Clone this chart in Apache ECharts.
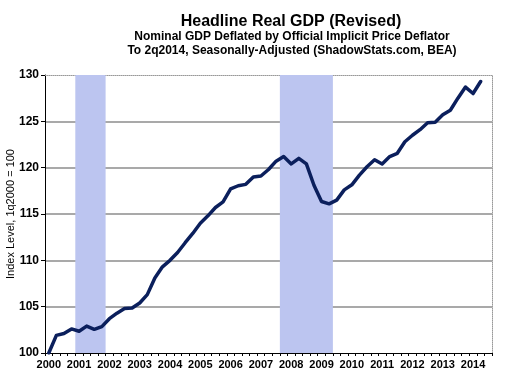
<!DOCTYPE html>
<html>
<head>
<meta charset="utf-8">
<script src="https://cdn.jsdelivr.net/npm/echarts@6/dist/echarts.min.js"></script>
<style>
html,body{margin:0;padding:0;background:#fff;}
#c{width:509px;height:390px;}
</style>
</head>
<body>
<div id="c"></div>
<script>
// Quarter categories, 1q2000 .. 3q2014 (axis runs one quarter past the data)
const years = [2000,2001,2002,2003,2004,2005,2006,2007,2008,2009,2010,2011,2012,2013,2014];
const quarters = [];
years.forEach(y => { [1,2,3,4].forEach(q => { if (!(y === 2014 && q === 4)) quarters.push(q + 'q' + y); }); });

// Headline real GDP index, 1q2000 = 100
const gdpIndex = [
  100.0, 101.9, 102.1, 102.6,
  102.35, 102.9, 102.55, 102.85,
  103.7, 104.3, 104.8, 104.85,
  105.4, 106.3, 108.1, 109.3,
  110.0, 110.85, 111.9, 112.9,
  114.0, 114.8, 115.7, 116.3,
  117.7, 118.05, 118.2, 119.0,
  119.1, 119.8, 120.7, 121.2,
  120.4, 121.0, 120.4, 118.1,
  116.35, 116.1, 116.5, 117.6,
  118.15, 119.2, 120.1, 120.85,
  120.4, 121.2, 121.55, 122.8,
  123.5, 124.1, 124.85, 124.9,
  125.7, 126.2, 127.5, 128.7,
  128.0, 129.3
];

// Recession periods (first and last shaded quarter)
const recessionStart = ['1q2001', '4q2007'];
const recessionEnd   = ['4q2001', '2q2009'];

const yMin = 100, yMax = 130, yStep = 5;

const titleMain = 'Headline Real GDP (Revised)';
const titleSub = 'Nominal GDP Deflated by Official Implicit Price Deflator\nTo 2q2014, Seasonally-Adjusted (ShadowStats.com, BEA)';
const yName = 'Index Level, 1q2000 = 100';

const FONT = '"Liberation Sans", Arial, sans-serif';
const chart = echarts.init(document.getElementById('c'), null, {renderer: 'canvas'});

chart.setOption({
  animation: false,
  backgroundColor: '#fff',
  title: [
    {text: titleMain, left: 286, top: 8, textAlign: 'center',
     textStyle: {fontFamily: FONT, fontSize: 16, fontWeight: 'bold', color: '#000', lineHeight: 18}},
    {text: titleSub, left: 287, top: 25, textAlign: 'center',
     textStyle: {fontFamily: FONT, fontSize: 12, fontWeight: 'bold', color: '#000', lineHeight: 14}}
  ],
  grid: {left: 45, right: 17, top: 75, bottom: 37, containLabel: false, outerBoundsMode: 'none'},
  xAxis: [
    {
      type: 'category', data: quarters, boundaryGap: true,
      axisLine: {lineStyle: {color: '#000', width: 1}},
      axisTick: {show: true, interval: 0, length: 3, lineStyle: {color: '#000'}},
      axisLabel: {interval: 3, margin: 6, fontFamily: FONT, fontSize: 11, fontWeight: 'bold', color: '#000',
        formatter: v => v.slice(2)},
      splitLine: {show: false}
    },
    {
      type: 'category', data: quarters, position: 'top',
      axisLine: {lineStyle: {color: '#999', width: 1, type: 'dotted'}},
      axisTick: {show: false}, axisLabel: {show: false}, splitLine: {show: false}
    }
  ],
  yAxis: [
    {
      type: 'value', min: yMin, max: yMax, interval: yStep,
      name: yName, nameLocation: 'middle', nameGap: 29, nameRotate: 90, nameMoveOverlap: false,
      nameTextStyle: {fontFamily: FONT, fontSize: 11, color: '#000'},
      axisLine: {show: true, lineStyle: {color: '#000', width: 1}},
      axisTick: {show: true, length: 4, lineStyle: {color: '#000'}},
      axisLabel: {margin: 6, fontFamily: FONT, fontSize: 12, fontWeight: 'bold', color: '#000'},
      splitLine: {show: true, showMinLine: false, showMaxLine: false, lineStyle: {color: '#8c8c8c', width: 1.5}}
    },
    {
      type: 'value', min: yMin, max: yMax, interval: yStep, position: 'right',
      axisLine: {show: true, lineStyle: {color: '#999', width: 1, type: 'dotted'}},
      axisTick: {show: false}, axisLabel: {show: false}, splitLine: {show: false}
    }
  ],
  series: [
    {
      type: 'custom', xAxisIndex: 0, yAxisIndex: 0, silent: true, z: 1,
      data: recessionStart.map((s, i) => [quarters.indexOf(s), quarters.indexOf(recessionEnd[i])]),
      renderItem: function (params, api) {
        const half = api.size([1, 0])[0] / 2;
        const p0 = api.coord([api.value(0), yMax]);
        const p1 = api.coord([api.value(1), yMin]);
        return {
          type: 'rect',
          shape: {x: p0[0] - half, y: p0[1], width: p1[0] - p0[0] + 2 * half, height: p1[1] - p0[1]},
          style: {fill: '#bcc5f0'}
        };
      }
    },
    {
      type: 'line', xAxisIndex: 0, yAxisIndex: 0,
      data: gdpIndex, showSymbol: false, symbol: 'none',
      lineStyle: {color: '#0b1f5c', width: 3.5, join: 'round', cap: 'round'},
      z: 3
    }
  ]
});
</script>
</body>
</html>
